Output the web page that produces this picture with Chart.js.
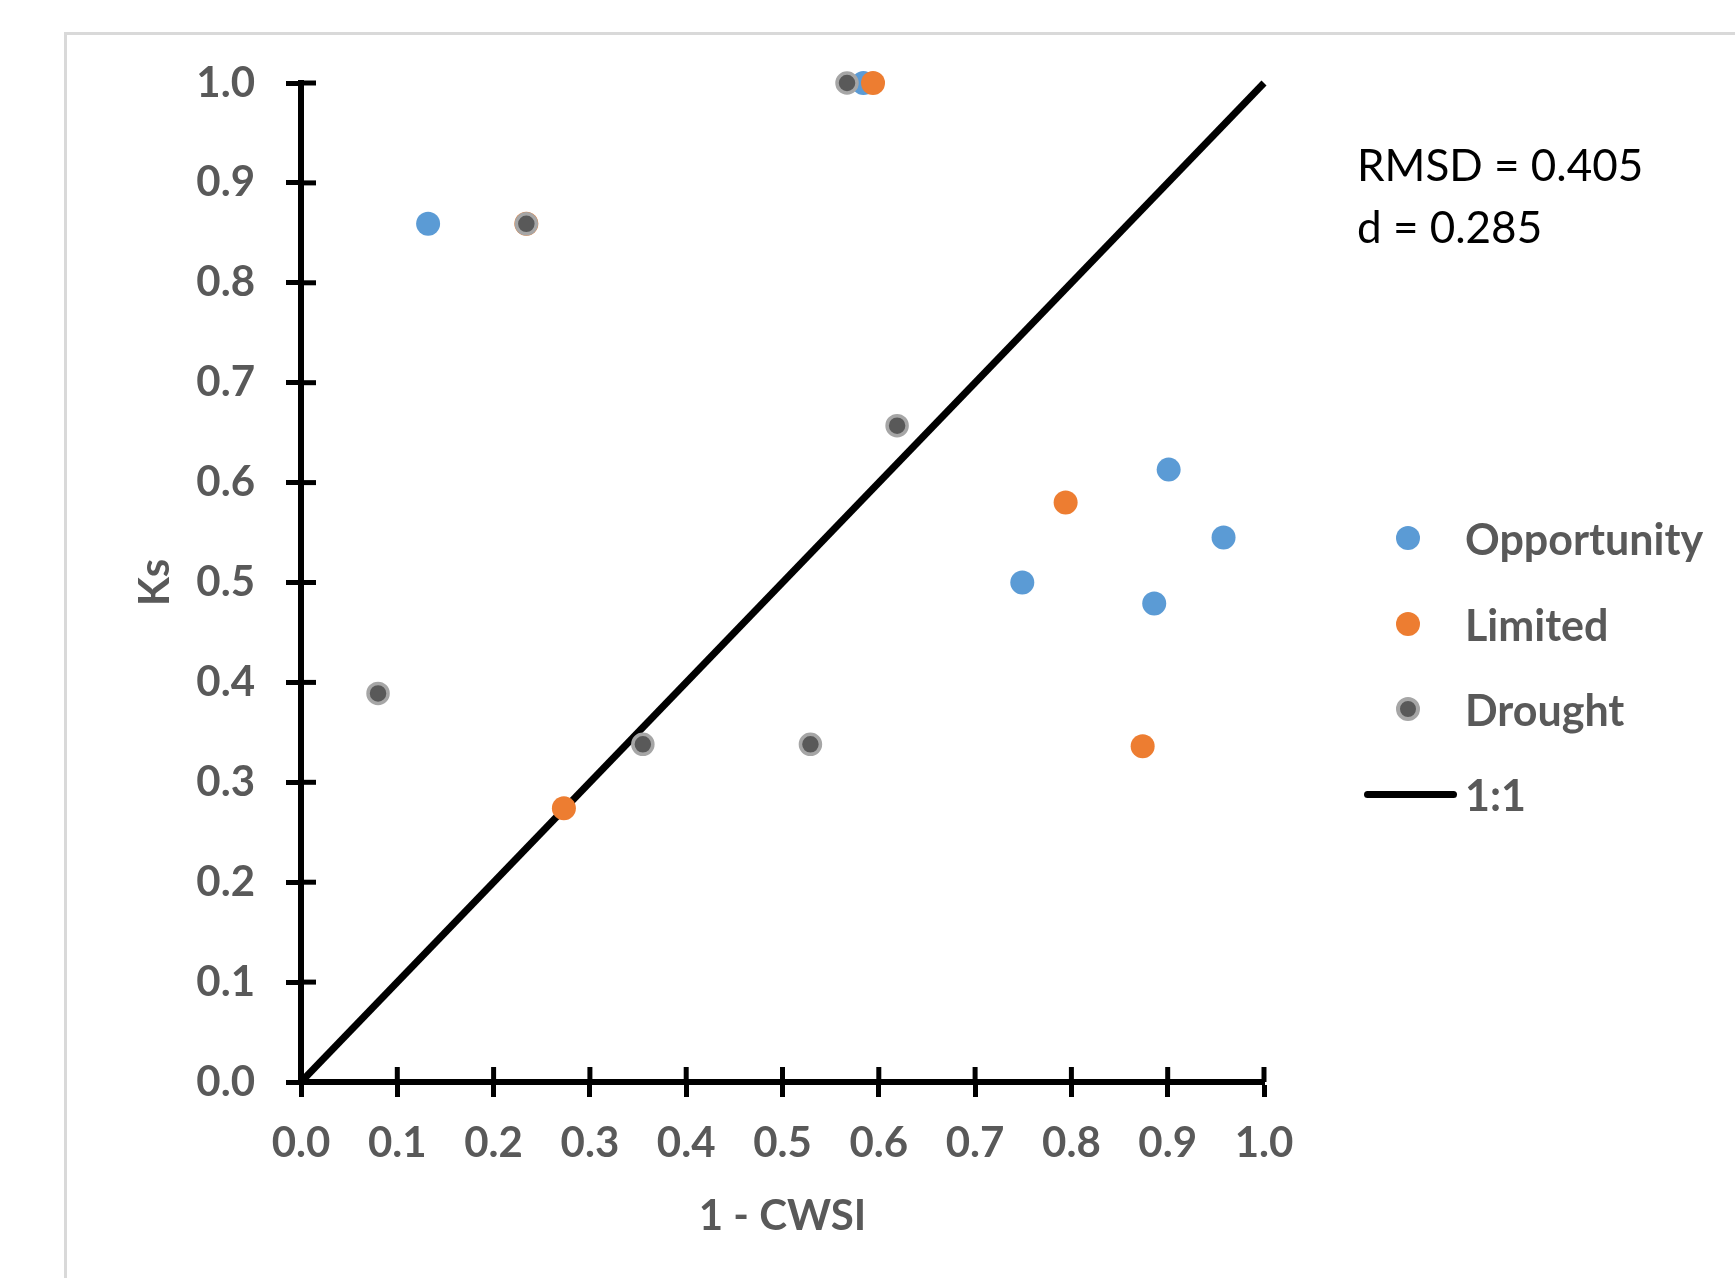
<!DOCTYPE html>
<html>
<head>
<meta charset="utf-8">
<script src="https://cdn.jsdelivr.net/npm/chart.js@4.4.1/dist/chart.umd.min.js"></script>
<style>
  html, body { margin: 0; padding: 0; background: #fff; }
  body { width: 1735px; height: 1278px; position: relative; overflow: hidden; font-family: Lato, "Open Sans", sans-serif; }
  #frame { position: absolute; left: 64px; top: 32px; width: 1760px; height: 1320px; border: 3px solid #d9d9d9; }
  #chart { position: absolute; left: 0; top: 0; }
  #stats { position: absolute; left: 1357px; top: 133px; font-size: 44px; line-height: 62px; color: #000; white-space: nowrap; }
  .row { position: absolute; left: 1364px; height: 84px; display: flex; align-items: center; white-space: nowrap;
         font-weight: bold; font-size: 43px; color: #595959; }
  .cell { width: 101px; height: 84px; position: relative; }
  .dot { position: absolute; left: 32px; top: 30px; width: 24px; height: 24px; border-radius: 50%; }
  .line { position: absolute; left: 0; top: 39px; width: 93px; height: 7px; background: #000; border-radius: 4px; }
</style>
</head>
<body>
<div id="frame"></div>
<canvas id="chart" width="1735" height="1278"></canvas>
<div id="stats">RMSD = 0.405<br>d = 0.285</div>
<div id="legend"></div>
<script>
/* ---------- Data ---------- */
const seriesNames = ["Opportunity", "Limited", "Drought"];
const seriesColors = ["#5b9bd5", "#ed7d31", "#595959"];

const opportunityX = [0.132, 0.584, 0.901, 0.958, 0.749, 0.886];
const opportunityY = [0.859, 1.000, 0.613, 0.545, 0.500, 0.479];

const limitedX = [0.234, 0.594, 0.794, 0.874, 0.273];
const limitedY = [0.859, 1.000, 0.580, 0.336, 0.274];

const droughtX = [0.567, 0.234, 0.619, 0.080, 0.355, 0.529];
const droughtY = [1.000, 0.859, 0.657, 0.389, 0.338, 0.338];

const oneToOneX = [0, 1];
const oneToOneY = [0, 1];

const axisMin = 0;
const axisMax = 1;
const axisStep = 0.1;

function points(xs, ys) {
    return xs.map((x, i) => ({ x: x, y: ys[i] }));
}

/* ---------- Inner half of the cross ticks ---------- */
const innerTicks = {
    id: "innerTicks",
    beforeDatasetsDraw(chart) {
        const { ctx, chartArea } = chart;
        const xs = chart.scales.x, ys = chart.scales.y;
        ctx.save();
        ctx.strokeStyle = "#000";
        ctx.lineWidth = 5;
        xs.ticks.forEach(t => {
            const px = xs.getPixelForValue(t.value);
            ctx.beginPath();
            ctx.moveTo(px, chartArea.bottom);
            ctx.lineTo(px, chartArea.bottom - 15);
            ctx.stroke();
        });
        ys.ticks.forEach(t => {
            const py = ys.getPixelForValue(t.value);
            ctx.beginPath();
            ctx.moveTo(chartArea.left, py);
            ctx.lineTo(chartArea.left + 15, py);
            ctx.stroke();
        });
        ctx.restore();
    }
};

const tickFont = { family: "Lato", size: 42, weight: "bold" };

function axis(title, titlePadding, fit) {
    return {
        type: "linear",
        min: axisMin,
        max: axisMax,
        ticks: {
            stepSize: axisStep,
            color: "#595959",
            font: tickFont,
            padding: fit === "y" ? 31 : 21,
            callback: v => Number(v).toFixed(1)
        },
        grid: {
            display: true,
            drawOnChartArea: false,
            drawTicks: true,
            tickLength: 15,
            tickWidth: 5,
            tickColor: "#000",
            color: "#000"
        },
        border: { display: true, color: "#000", width: 6 },
        title: {
            display: true,
            text: title,
            color: "#595959",
            font: { family: "Lato", size: 42, weight: "bold" },
            padding: titlePadding
        },
        afterFit(scale) {
            if (fit === "y") scale.width = 301;
            else scale.height = 196;
        }
    };
}

/* ---------- Chart ---------- */
new Chart(document.getElementById("chart"), {
    type: "scatter",
    data: {
        datasets: [
            {
                label: "1:1",
                data: points(oneToOneX, oneToOneY),
                showLine: true,
                borderColor: "#000",
                borderWidth: 7,
                pointRadius: 0,
                clip: false,
                order: 3
            },
            {
                label: seriesNames[0],
                data: points(opportunityX, opportunityY),
                backgroundColor: seriesColors[0],
                borderWidth: 0,
                pointRadius: 12,
                clip: false,
                order: 2
            },
            {
                label: seriesNames[1],
                data: points(limitedX, limitedY),
                backgroundColor: seriesColors[1],
                borderWidth: 0,
                pointRadius: 12,
                clip: false,
                order: 1
            },
            {
                label: seriesNames[2],
                data: points(droughtX, droughtY),
                backgroundColor: seriesColors[2],
                borderColor: "#a6a6a6",
                borderWidth: 3.5,
                pointRadius: 10,
                clip: false,
                order: 0
            }
        ]
    },
    options: {
        responsive: false,
        animation: false,
        devicePixelRatio: 1,
        layout: { padding: { left: 0, right: 471, top: 83, bottom: 0 } },
        plugins: {
            legend: { display: false },
            tooltip: { enabled: false }
        },
        scales: {
            x: axis("1 - CWSI", { top: 0, bottom: 36 }, "x"),
            y: axis("Ks", { top: 130, bottom: 0 }, "y")
        }
    },
    plugins: [innerTicks]
});

/* ---------- Legend ---------- */
const legend = document.getElementById("legend");
const rowCenters = [538, 624, 709, 794];

seriesNames.forEach((name, i) => {
    const row = document.createElement("div");
    row.className = "row";
    row.style.top = (rowCenters[i] - 42) + "px";
    const cell = document.createElement("div");
    cell.className = "cell";
    const dot = document.createElement("div");
    dot.className = "dot";
    dot.style.background = seriesColors[i];
    if (name === "Drought") {
        dot.style.boxSizing = "border-box";
        dot.style.border = "4px solid #a6a6a6";
    }
    cell.appendChild(dot);
    row.appendChild(cell);
    row.appendChild(document.createTextNode(name));
    legend.appendChild(row);
});

const lineRow = document.createElement("div");
lineRow.className = "row";
lineRow.style.top = (rowCenters[3] - 42) + "px";
lineRow.innerHTML = '<div class="cell"><div class="line"></div></div>1:1';
legend.appendChild(lineRow);
</script>
</body>
</html>
